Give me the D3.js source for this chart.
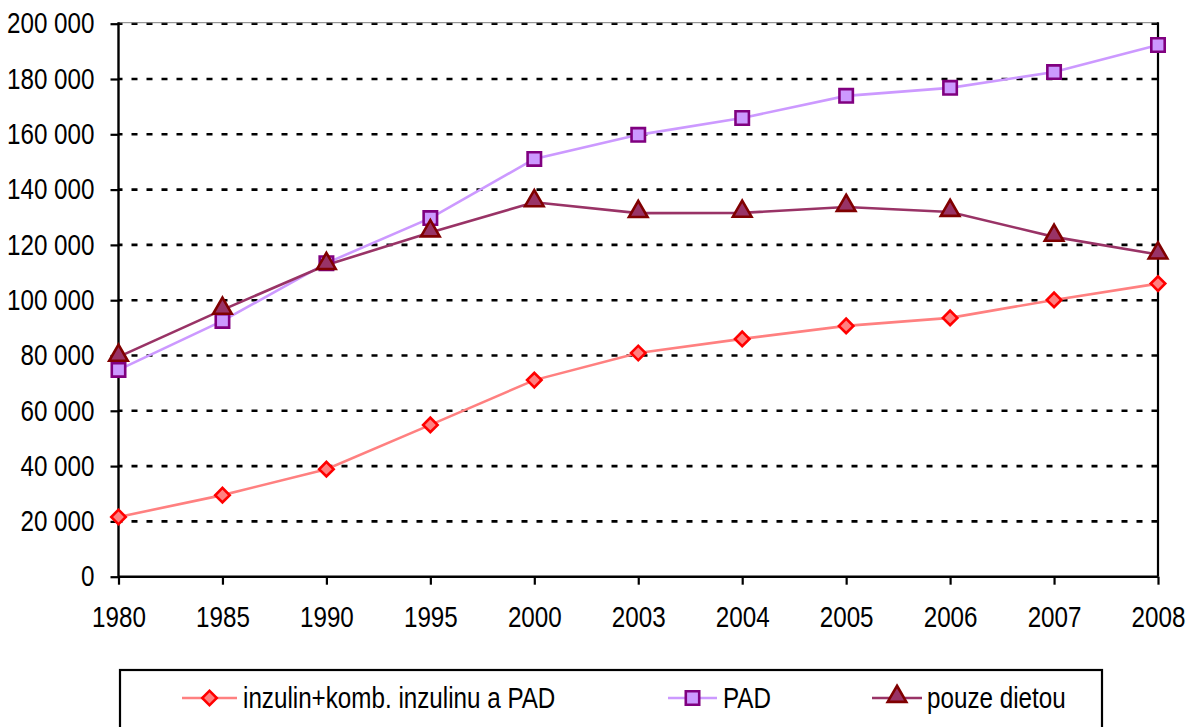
<!DOCTYPE html>
<html>
<head>
<meta charset="utf-8">
<script src="https://cdn.jsdelivr.net/npm/d3@7"></script>
<style>
  body { margin: 0; background: #fff; }
  svg text { font-family: "Liberation Sans", Arial, sans-serif; }
</style>
</head>
<body>
<svg id="chart" width="1187" height="727"></svg>
<script>
// years on the x axis
var years = ["1980", "1985", "1990", "1995", "2000", "2003", "2004", "2005", "2006", "2007", "2008"];

// series values (patients)
var inzulin = [21600, 29500, 38900, 54900, 71100, 80900, 86000, 90700, 93600, 100100, 106000];
var pad = [74800, 92500, 113400, 129700, 151100, 159800, 165900, 173900, 176800, 182500, 192300];
var dieta = [79500, 96500, 112700, 124500, 135400, 131500, 131600, 133700, 131900, 122900, 116500];

var yTicks = [0, 20000, 40000, 60000, 80000, 100000, 120000, 140000, 160000, 180000, 200000];

var series = [
    { name: "inzulin+komb. inzulinu a PAD", values: inzulin, line: "#ff8080", fill: "#ff8080", stroke: "#ff0000", shape: "diamond" },
    { name: "PAD", values: pad, line: "#cc99ff", fill: "#cc99ff", stroke: "#800080", shape: "square" },
    { name: "pouze dietou", values: dieta, line: "#993366", fill: "#993366", stroke: "#800000", shape: "triangle" }
];

var svg = d3.select("#chart");
var plotLeft = 118.5, plotRight = 1158, plotTop = 23.7, plotBottom = 576.7;
var squeeze = 0.835; // narrow type look
var fontSize = "29px";

var x = d3.scalePoint().domain(years).range([plotLeft, plotRight]);
var y = d3.scaleLinear().domain([0, 200000]).range([plotBottom, plotTop]);

var fmt = d3.formatLocale({ decimal: ",", thousands: " ", grouping: [3], currency: ["", ""] }).format(",d");

// gridlines
svg.append("g")
    .selectAll("line")
    .data(yTicks.filter(function (d) { return d > 0; }))
    .enter()
    .append("line")
    .attr("x1", plotLeft)
    .attr("x2", plotRight)
    .attr("y1", function (d) { return y(d); })
    .attr("y2", function (d) { return y(d); })
    .attr("stroke", "#000")
    .attr("stroke-width", 2.6)
    .attr("stroke-dasharray", "6 9")
    .attr("stroke-dashoffset", 2);

// plot frame: grey top, black right
svg.append("line")
    .attr("x1", plotLeft).attr("x2", plotRight)
    .attr("y1", plotTop - 1).attr("y2", plotTop - 1)
    .attr("stroke", "#808080").attr("stroke-width", 1);
svg.append("line")
    .attr("x1", plotRight).attr("x2", plotRight)
    .attr("y1", plotTop - 1.5).attr("y2", plotBottom)
    .attr("stroke", "#000").attr("stroke-width", 2.2);

// axes
var yAxis = svg.append("g")
    .attr("transform", "translate(" + plotLeft + ",0)")
    .call(d3.axisLeft(y).tickValues(yTicks).tickFormat(fmt).tickSize(8).tickPadding(16));

var xAxis = svg.append("g")
    .attr("transform", "translate(0," + plotBottom + ")")
    .call(d3.axisBottom(x).tickSize(8).tickPadding(22));

[yAxis, xAxis].forEach(function (ax) {
    ax.select(".domain").attr("stroke", "#000").attr("stroke-width", 2.4);
    ax.selectAll(".tick line").attr("stroke", "#000").attr("stroke-width", 2.2);
    ax.selectAll("text")
        .attr("fill", "#000")
        .style("font-size", fontSize)
        .style("font-family", "'Liberation Sans', Arial, sans-serif");
});
yAxis.selectAll(".tick text")
    .attr("x", -24 / squeeze)
    .attr("transform", "scale(" + squeeze + ",1)");
xAxis.selectAll(".tick text")
    .attr("transform", "scale(" + squeeze + ",1)");
yAxis.select(".domain").attr("d", "M0," + plotBottom + "V" + (plotTop - 1.5));
xAxis.select(".domain").attr("d", "M" + plotLeft + ",0H" + plotRight);

function symbolPath(shape) {
    if (shape === "diamond") return d3.symbol().type(d3.symbolSquare).size(105)();
    if (shape === "square") return d3.symbol().type(d3.symbolSquare).size(180)();
    return d3.symbol().type(d3.symbolTriangle).size(150)();
}
function symbolTransform(shape, px, py) {
    if (shape === "diamond") return "translate(" + px + "," + py + ") rotate(45)";
    if (shape === "triangle") return "translate(" + px + "," + (py - 1.5) + ")";
    return "translate(" + px + "," + py + ")";
}

var line = d3.line()
    .x(function (d, i) { return x(years[i]); })
    .y(function (d) { return y(d); });

series.forEach(function (s) {
    svg.append("path")
        .attr("d", line(s.values))
        .attr("fill", "none")
        .attr("stroke", s.line)
        .attr("stroke-width", 2.6);
});

series.forEach(function (s) {
    svg.append("g")
        .selectAll("path")
        .data(s.values)
        .enter()
        .append("path")
        .attr("d", symbolPath(s.shape))
        .attr("transform", function (d, i) { return symbolTransform(s.shape, x(years[i]), y(d)); })
        .attr("fill", s.fill)
        .attr("stroke", s.stroke)
        .attr("stroke-width", 2.6);
});

// legend
svg.append("rect")
    .attr("x", 120).attr("y", 670)
    .attr("width", 982).attr("height", 80)
    .attr("fill", "#fff")
    .attr("stroke", "#000")
    .attr("stroke-width", 2.2);

var legendPos = [
    { x1: 182, x2: 237, tx: 243 },
    { x1: 668, x2: 717, tx: 723 },
    { x1: 872, x2: 922, tx: 927 }
];
var ly = 698;

series.forEach(function (s, i) {
    var p = legendPos[i];
    svg.append("line")
        .attr("x1", p.x1).attr("x2", p.x2)
        .attr("y1", ly).attr("y2", ly)
        .attr("stroke", s.line)
        .attr("stroke-width", 2.6);
    svg.append("path")
        .attr("d", symbolPath(s.shape))
        .attr("transform", symbolTransform(s.shape, (p.x1 + p.x2) / 2, ly))
        .attr("fill", s.fill)
        .attr("stroke", s.stroke)
        .attr("stroke-width", 2.6);
    svg.append("text")
        .attr("transform", "translate(" + p.tx + "," + (ly + 10) + ") scale(" + squeeze + ",1)")
        .attr("fill", "#000")
        .style("font-size", fontSize)
        .text(s.name);
});
</script>
</body>
</html>
